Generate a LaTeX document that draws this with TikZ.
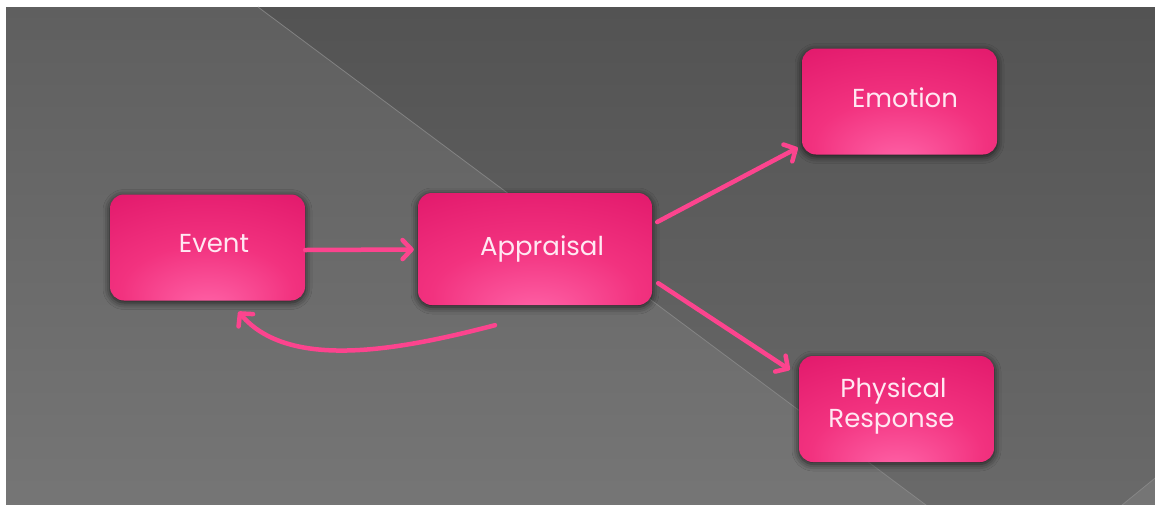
\documentclass[tikz,border=0pt]{standalone}
\usepackage{fontspec}
\setmainfont{Poppins}
\usetikzlibrary{arrows.meta,calc,shadows.blur}

\definecolor{bgtop}{HTML}{5F5F5F}
\definecolor{bgbot}{HTML}{767676}
\definecolor{darktop}{HTML}{535353}
\definecolor{darkbot}{HTML}{6A6A6A}
\definecolor{seam}{HTML}{8C8C8C}
\definecolor{pinklo}{HTML}{DE1367}
\definecolor{pinkmid}{HTML}{F2327F}
\definecolor{pinkhi}{HTML}{FF64A8}
\definecolor{arrowpink}{HTML}{FC448E}
\definecolor{boxtext}{HTML}{FFE8F2}

% glossy fill: bright spot near the bottom centre of each box
\pgfdeclareradialshading{boxglow}{\pgfpoint{0bp}{-30bp}}{%
  color(0bp)=(pinkhi); color(22bp)=(pinkmid); color(50bp)=(pinklo); color(70bp)=(pinklo)}

\tikzset{
  box/.style={rounded corners=14pt, shading=boxglow, text=boxtext,
    font=\fontsize{26}{30}\selectfont, align=center, inner sep=0pt,
    minimum width=195pt, minimum height=106pt,
    blur shadow={shadow xshift=0pt, shadow yshift=-2pt,
      shadow blur radius=7pt, shadow opacity=75}},
  flow/.style={draw=arrowpink, line width=4.5pt, line cap=round,
    -{Straight Barb[length=9pt, width=19pt, round]}}
}

\begin{document}
\begin{tikzpicture}[x=1pt, y=-1pt]
  \useasboundingbox (0,0) rectangle (1155,504);
  % page background and the two gray panels (bled past the page edge)
  \fill[white] (0,0) rectangle (1155,504);
  \shade[top color=bgtop, bottom color=bgbot] (6,7) rectangle (1165,514);
  \shade[top color=darktop, bottom color=darkbot]
    (258,7) -- (1165,7) -- (1165,470) -- (1111,514) -- (938,514) -- cycle;
  \draw[seam, line width=0.8pt, opacity=0.8] (258,7) -- (938,514);
  \draw[seam, line width=0.8pt, opacity=0.8] (1111,514) -- (1165,470);

  % boxes (text sits a little right of and above each box centre)
  \node[box, text depth=9pt] (ev) at (207.5,247.5) {\hspace*{13pt}Event};
  \node[box, minimum width=234pt, minimum height=112pt] (ap) at (535,249)
    {\hspace*{14pt}Appraisal};
  \node[box, text depth=7pt] (em) at (899.5,101.5) {\hspace*{11pt}Emotion};
  \node[box, text depth=12pt] (pr) at (896.5,409)
    {\hspace*{-6pt}Physical\\\hspace*{-10pt}Response};

  % connectors
  \draw[flow] ($(ev.east)+(0,2.5)$) -- ($(ap.west)+(-4,0.5)$);
  \draw[flow] ($(ap.east)+(5,-27)$) -- ($(em.south west)+(-4,-7)$);
  \draw[flow] ($(ap.south east)+(6,-22)$) -- ($(pr.north west)+(-9,14)$);
  \draw[flow] ($(ap.south)+(-40,20)$) .. controls (400,350) and (289,371) .. ($(ev.south)+(31,11)$);
\end{tikzpicture}
\end{document}
